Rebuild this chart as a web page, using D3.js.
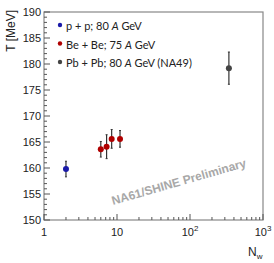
<!DOCTYPE html>
<html>
<head>
<meta charset="utf-8">
<script src="https://cdn.jsdelivr.net/npm/d3@7"></script>
<style>
  body { margin: 0; background: #fff; }
  svg { display: block; }
</style>
</head>
<body>
<div id="chart"></div>
<script>
// data
const ppNw = [2]
const ppT = [159.8]
const ppErr = [1.5]

const beNw = [6, 7.2, 8.45, 11]
const beT = [163.6, 164.1, 165.6, 165.6]
const beErr = [1.5, 2.3, 1.8, 1.6]

const pbNw = [341]
const pbT = [179.2]
const pbErr = [3.1]

const legendLabels = ['p + p; 80 ', 'Be + Be; 75 ', 'Pb + Pb; 80 ']
const legendSuffix = [' GeV', ' GeV', ' GeV (NA49)']
const colors = ['#1a1aa8', '#b00000', '#444444']

const xTicks = [1, 10, 100, 1000]
const yTicks = [150, 155, 160, 165, 170, 175, 180, 185, 190]

const width = 274
const height = 263
const margin = { top: 12, left: 44, right: 11, bottom: 43 }

const svg = d3
  .select('#chart')
  .append('svg')
  .attr('width', width)
  .attr('height', height)

const x = d3
  .scaleLog()
  .domain([1, 1000])
  .range([margin.left, width - margin.right])

const y = d3
  .scaleLinear()
  .domain([150, 190])
  .range([height - margin.bottom, margin.top])

// frame
svg
  .append('rect')
  .attr('x', x(1))
  .attr('y', y(190))
  .attr('width', x(1000) - x(1))
  .attr('height', y(150) - y(190))
  .attr('fill', 'none')
  .attr('stroke', '#888')
  .attr('stroke-width', 1.2)

// y axis ticks, inward
const yMinor = d3.range(150, 190.5, 1)
svg
  .selectAll('.ytick')
  .data(yMinor)
  .enter()
  .append('line')
  .attr('class', 'ytick')
  .attr('x1', x(1))
  .attr('x2', d => x(1) + (d % 5 === 0 ? 6 : 3))
  .attr('y1', d => y(d))
  .attr('y2', d => y(d))
  .attr('stroke', '#555')
  .attr('stroke-width', 1)

svg
  .selectAll('.ylabel')
  .data(yTicks)
  .enter()
  .append('text')
  .attr('class', 'ylabel')
  .attr('x', x(1) - 3)
  .attr('y', d => y(d))
  .attr('text-anchor', 'end')
  .attr('dominant-baseline', 'central')
  .attr('font-family', 'Liberation Sans, Arial, sans-serif')
  .attr('font-size', 11)
  .attr('fill', '#222')
  .text(d => d)

// x axis ticks, inward
const xMinor = []
for (let e = 0; e < 3; e++) {
  for (let m = 1; m < 10; m++) xMinor.push(m * Math.pow(10, e))
}
xMinor.push(1000)
svg
  .selectAll('.xtick')
  .data(xMinor)
  .enter()
  .append('line')
  .attr('class', 'xtick')
  .attr('x1', d => x(d))
  .attr('x2', d => x(d))
  .attr('y1', y(150))
  .attr('y2', d => y(150) - (xTicks.includes(d) ? 6 : 3))
  .attr('stroke', '#555')
  .attr('stroke-width', 1)

svg
  .selectAll('.xlabel')
  .data(xTicks)
  .enter()
  .append('text')
  .attr('class', 'xlabel')
  .attr('x', d => x(d))
  .attr('y', y(150) + 16)
  .attr('text-anchor', 'middle')
  .attr('font-family', 'Liberation Sans, Arial, sans-serif')
  .attr('font-size', 11)
  .attr('fill', '#222')
  .each(function(d) {
    const t = d3.select(this)
    if (d < 100) {
      t.text(d)
    } else {
      t.append('tspan').text('10')
      t.append('tspan')
        .attr('dy', -5)
        .attr('font-size', 8)
        .text(Math.round(Math.log10(d)))
    }
  })

// axis titles
svg
  .append('text')
  .attr('transform', 'translate(15,10) rotate(-90)')
  .attr('text-anchor', 'end')
  .attr('font-family', 'Liberation Sans, Arial, sans-serif')
  .attr('font-size', 12)
  .attr('fill', '#222')
  .text('T [MeV]')

const xt = svg
  .append('text')
  .attr('x', 248)
  .attr('y', 256)
  .attr('font-family', 'Liberation Sans, Arial, sans-serif')
  .attr('font-size', 12)
  .attr('fill', '#222')
xt.append('tspan').text('N')
xt.append('tspan').attr('dy', 3).attr('font-size', 8).text('w')

// watermark
svg
  .append('text')
  .attr('transform', 'translate(113,205) rotate(-16)')
  .attr('font-family', 'Liberation Sans, Arial, sans-serif')
  .attr('font-size', 12)
  .attr('font-weight', 'bold')
  .attr('fill', '#a8a8a8')
  .text('NA61/SHINE Preliminary')

// points with error bars
const series = [
  { nw: ppNw, t: ppT, err: ppErr, color: colors[0] },
  { nw: beNw, t: beT, err: beErr, color: colors[1] },
  { nw: pbNw, t: pbT, err: pbErr, color: colors[2] }
]

series.forEach(s => {
  const pts = s.nw.map((n, i) => ({ n: n, t: s.t[i], e: s.err[i] }))
  const g = svg.append('g')
  g.selectAll('.err')
    .data(pts)
    .enter()
    .append('line')
    .attr('x1', d => x(d.n))
    .attr('x2', d => x(d.n))
    .attr('y1', d => y(d.t - d.e))
    .attr('y2', d => y(d.t + d.e))
    .attr('stroke', '#333')
    .attr('stroke-width', 1.2)
  g.selectAll('.cap')
    .data(pts.flatMap(d => [d.t - d.e, d.t + d.e].map(v => ({ n: d.n, v: v }))))
    .enter()
    .append('line')
    .attr('x1', d => x(d.n) - 1)
    .attr('x2', d => x(d.n) + 1)
    .attr('y1', d => y(d.v))
    .attr('y2', d => y(d.v))
    .attr('stroke', '#333')
    .attr('stroke-width', 1)
  g.selectAll('circle')
    .data(pts)
    .enter()
    .append('circle')
    .attr('cx', d => x(d.n))
    .attr('cy', d => y(d.t))
    .attr('r', 3)
    .attr('fill', s.color)
})

// legend
legendLabels.forEach((label, i) => {
  const ly = 25 + i * 18.5
  svg.append('circle')
    .attr('cx', 60)
    .attr('cy', ly)
    .attr('r', 2.2)
    .attr('fill', colors[i])
  const t = svg.append('text')
    .attr('x', 66)
    .attr('y', ly)
    .attr('dominant-baseline', 'central')
    .attr('font-family', 'Lato, sans-serif')
    .attr('font-size', 11)
    .attr('fill', '#222')
  t.append('tspan').text(label)
  t.append('tspan').attr('font-style', 'italic').text('A')
  t.append('tspan').text(legendSuffix[i])
})
</script>
</body>
</html>
